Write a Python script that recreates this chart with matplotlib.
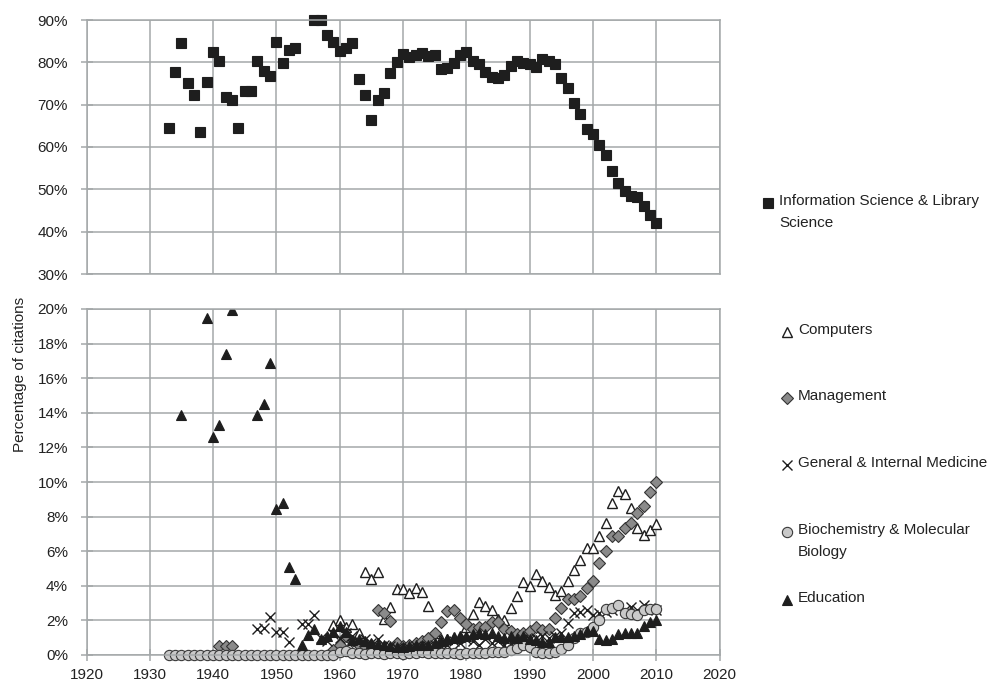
import numpy as np
import matplotlib
matplotlib.use("Agg")
import matplotlib.pyplot as plt
from matplotlib.lines import Line2D

plt.rcParams['font.family'] = ['Liberation Sans', 'DejaVu Sans']

nan = np.nan
years = np.arange(1933, 2011)

# share of citations (%) by subject category, 1933-2010
lis = [64.4, 77.8, 84.6, 75.2, 72.3, 63.5, 75.3, 82.5, 80.3, 71.8,
       71.1, 64.5, 73.2, 73.3, 80.2, 77.9, 76.8, 84.9, 79.8, 82.9,
       83.3, nan, nan, 90.0, 89.9, 86.5, 84.8, 82.7, 83.4, 84.5,
       76.0, 72.3, 66.4, 71.1, 72.7, 77.4, 80.1, 81.9, 81.3, 81.7,
       82.1, 81.6, 81.7, 78.4, 78.7, 79.8, 81.7, 82.4, 80.4, 79.6,
       77.6, 76.6, 76.2, 77.0, 79.1, 80.3, 79.8, 79.6, 79.0, 80.7,
       80.3, 79.6, 76.4, 73.9, 70.3, 67.7, 64.2, 63.0, 60.4, 58.0,
       54.3, 51.6, 49.6, 48.5, 48.2, 46.1, 43.9, 42.1]

computers = [nan] * 26 + [
    1.75, 2.0, 1.6, 1.8, 1.25, 4.8, 4.4, 4.8, 2.1, 2.75,
    3.8, 3.8, 3.6, 3.85, 3.65, 2.85, 1.3, 0.9, 0.95, 1.05,
    1.1, 1.6, 2.35, 3.05, 2.85, 2.6, 2.1, 2.0, 2.7, 3.4,
    4.2, 4.0, 4.7, 4.25, 3.95, 3.45, 3.7, 4.25, 4.9, 5.5,
    6.2, 6.2, 6.9, 7.65, 8.8, 9.5, 9.3, 8.5, 7.35, 6.95,
    7.25, 7.6]

management = [nan] * 8 + [0.5, 0.5, 0.5] + [nan] * 15 + [
    0.3, 0.55, 1.1, 0.8, 0.6, 0.5, 0.6, 2.6, 2.4, 1.95,
    0.7, 0.5, 0.6, 0.7, 0.8, 1.0, 1.3, 1.9, 2.55, 2.6,
    2.15, 1.8, 1.5, 1.6, 1.6, 1.9, 1.9, 1.5, 1.4, 1.2,
    1.3, 1.4, 1.6, 1.45, 1.5, 2.15, 2.7, 3.25, 3.25, 3.4,
    3.85, 4.25, 5.3, 6.0, 6.85, 6.85, 7.35, 7.65, 8.2, 8.6,
    9.45, 10.0]

medicine = [nan] * 14 + [
    1.5, 1.55, 2.2, 1.35, 1.35, 0.75, nan, 1.8, 1.8, 2.3,
    1.0, 0.8, 1.2, 1.0, 1.3, 1.1, 0.8, 0.9, 0.7, 0.9,
    0.6, 0.5, 0.4, 0.3, 0.4, 0.5, 0.3, 0.5, 0.6, 0.5,
    0.6, 0.8, 0.7, 0.9, 0.8, 0.6, 0.9, 0.7, 0.8, 0.6,
    0.7, 0.6, 0.8, 0.9, 1.0, 1.1, 1.0, 1.1, 1.3, 1.85,
    2.4, 2.5, 2.6, 2.3, 2.4, 2.5, 2.6, 2.7, 2.6, 2.75,
    2.6, 2.9, 2.7, 2.6]

biochem = [0.0] * 27 + [
    0.2, 0.25, 0.1, 0.1, 0.05, 0.1, 0.1, 0.05, 0.1, 0.1,
    0.05, 0.1, 0.1, 0.15, 0.1, 0.1, 0.1, 0.1, 0.1, 0.05,
    0.1, 0.1, 0.1, 0.1, 0.15, 0.15, 0.2, 0.3, 0.4, 0.55,
    0.45, 0.2, 0.1, 0.1, 0.15, 0.35, 0.6, 1.0, 1.25, 1.35,
    1.6, 2.0, 2.65, 2.7, 2.9, 2.4, 2.35, 2.3, 2.6, 2.65,
    2.65]

education = [nan, nan, 13.9, nan, nan, nan, 19.5, 12.6, 13.3, 17.4,
             19.95, nan, nan, nan, 13.9, 14.5, 16.9, 8.45, 8.8, 5.1,
             4.4, 0.55, 1.15, 1.5, 0.9, 1.1, 1.35, 1.7, 1.35, 0.85,
             0.9, 0.8, 0.7, 0.65, 0.55, 0.5, 0.45, 0.45, 0.5, 0.55,
             0.6, 0.6, 0.7, 0.8, 0.9, 1.0, 1.05, 1.1, 1.2, 1.25,
             1.2, 1.3, 1.1, 1.0, 1.1, 1.0, 1.1, 0.95, 0.85, 0.75,
             0.75, 1.05, 1.05, 1.05, 1.1, 1.2, 1.4, 1.4, 0.9, 0.85,
             0.9, 1.2, 1.25, 1.25, 1.3, 1.65, 1.9, 2.0]

labels = ["Information Science & Library\nScience", "Computers", "Management",
          "General & Internal Medicine", "Biochemistry & Molecular\nBiology",
          "Education"]

grid_c = "#a4a8a9"
text_c = "#222222"
dark = "#1e1e1e"

styles = {
    "lis": dict(marker="s", ms=7.5, mfc=dark, mec=dark, mew=0.8),
    "computers": dict(marker="^", ms=7.5, mfc="white", mec=dark, mew=1.0),
    "management": dict(marker="D", ms=5.8, mfc="#8a8a8a", mec="#333333", mew=0.8),
    "medicine": dict(marker="x", ms=7.5, mfc="none", mec=dark, mew=1.0),
    "biochem": dict(marker="o", ms=7.4, mfc="#c9c9c9", mec="#3a3a3a", mew=0.8),
    "education": dict(marker="^", ms=7.5, mfc=dark, mec=dark, mew=0.8),
}

fig = plt.figure(figsize=(9.97, 6.88), dpi=100)
W, H = 997, 688


def px_axes(left, top, right, bottom):
    return fig.add_axes([left / W, 1 - bottom / H, (right - left) / W, (bottom - top) / H])


ax_top = px_axes(86.5, 20, 719.5, 274)
ax_bot = px_axes(86.5, 309, 719.5, 655)

for ax in (ax_top, ax_bot):
    ax.set_xlim(1920, 2020)
    ax.set_xticks(np.arange(1920, 2021, 10))
    ax.grid(True, color=grid_c, linewidth=1.1)
    ax.set_axisbelow(True)
    for sp in ax.spines.values():
        sp.set_color(grid_c)
        sp.set_linewidth(1.1)
    ax.tick_params(colors=grid_c, labelcolor=text_c, labelsize=11,
                   direction="inout", length=8.5, width=1.1)
    ax.tick_params(axis="y", pad=9)
    ax.tick_params(axis="x", pad=5)

ax_top.set_ylim(30, 90)
ax_top.set_yticks(np.arange(30, 91, 10))
ax_top.set_yticklabels([f"{v}%" for v in range(30, 91, 10)])
ax_top.tick_params(axis="x", length=0, labelbottom=False)
ax_top.plot(years, lis, ls="none", clip_on=False, **styles["lis"])

ax_bot.set_ylim(0, 20)
ax_bot.set_yticks(np.arange(0, 21, 2))
ax_bot.set_yticklabels([f"{v}%" for v in range(0, 21, 2)])
ax_bot.plot(years, computers, ls="none", **styles["computers"])
ax_bot.plot(years, management, ls="none", **styles["management"])
ax_bot.plot(years, medicine, ls="none", **styles["medicine"])
ax_bot.plot(years, biochem, ls="none", clip_on=False, **styles["biochem"])
ax_bot.plot(years, education, ls="none", **styles["education"])

fig.text(20 / W, 1 - 374 / H, "Percentage of citations", rotation=90,
         ha="center", va="center", fontsize=11, color=text_c)

# legend entries placed beside each panel
entries = [
    ("lis", 768, 203, labels[0]),
    ("computers", 787, 332, labels[1]),
    ("management", 787, 398, labels[2]),
    ("medicine", 787, 465, labels[3]),
    ("biochem", 787, 532, labels[4]),
    ("education", 787, 600, labels[5]),
]
for key, mx, my, lab in entries:
    fig.add_artist(Line2D([mx / W], [1 - my / H], ls="none",
                          transform=fig.transFigure, **styles[key]))
    fig.text((mx + 11) / W, 1 - (my - 9) / H, lab, ha="left", va="top",
             fontsize=11, color=text_c, linespacing=1.7)

fig.savefig("out.png", dpi=100, facecolor="white")
